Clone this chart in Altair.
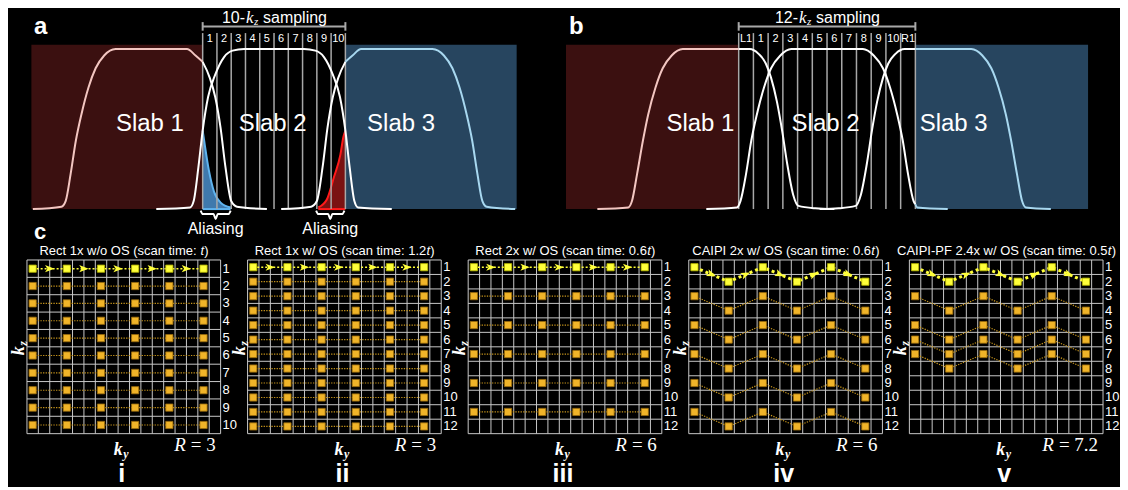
import math
import re
import altair as alt
import pandas as pd

# ======================= DATA =======================
# Panel a: slab excitation profiles; x in k_z-sample units of slab 2's FOV (0..10), y relative signal
A_SLAB1_U = [-11.9, -9.9, -9.6, -9.25, -8.88, -8.5, -8.0, -7.5, -6.9, -6.1, -1.1, -0.5, 0.0, 0.5, 0.88, 1.25, 1.6, 2.0, 2.4, 4.5]
A_SLAB1_V = [0.0, 0.015, 0.05, 0.22, 0.43, 0.59, 0.76, 0.88, 0.96, 1.0, 1.0, 0.96, 0.92, 0.82, 0.70, 0.51, 0.26, 0.05, 0.015, 0.0]
A_SLAB2_U = [-3.25, -0.88, -0.63, -0.3, 0.0, 0.38, 0.88, 1.5, 2.1, 2.9, 7.1, 7.9, 8.5, 9.12, 9.62, 10.0, 10.3, 10.63, 10.88, 13.25]
A_SLAB2_V = [0.0, 0.01, 0.05, 0.26, 0.49, 0.70, 0.84, 0.95, 0.99, 1.0, 1.0, 0.99, 0.95, 0.84, 0.70, 0.49, 0.26, 0.05, 0.01, 0.0]
A_SLAB3_U = [5.5, 7.6, 8.0, 8.4, 8.75, 9.12, 9.5, 10.0, 10.5, 11.1, 16.1, 16.9, 17.5, 18.0, 18.5, 18.88, 19.25, 19.6, 19.9, 21.9]
A_SLAB3_V = [0.0, 0.015, 0.05, 0.26, 0.51, 0.70, 0.82, 0.92, 0.96, 1.0, 1.0, 0.96, 0.88, 0.76, 0.59, 0.43, 0.22, 0.05, 0.015, 0.0]
A_ALIAS_BLUE_U = [0.0, 0.1, 0.44, 0.79, 1.26, 1.96]
A_ALIAS_BLUE_V = [0.49, 0.43, 0.24, 0.11, 0.04, 0.01]
A_ALIAS_RED_U = [8.1, 8.7, 9.2, 9.65, 9.86, 10.0]
A_ALIAS_RED_V = [0.01, 0.06, 0.2, 0.34, 0.45, 0.49]
A_BRACE_SPANS = [(-0.14, 1.96), (7.95, 9.93)]
A_REGION_X0 = [-12.0, 10.0]
A_REGION_X1 = [0.0, 22.0]
A_SLAB_TEXT_U = [-3.7, 4.9, 13.9]
A_KZ_LABELS = [str(i) for i in range(1, 11)]

# Panel b: x in k_z-sample units of the 12-k_z FOV (0..12)
B_SLAB1_U = [-9.6, -7.5, -7.25, -6.9, -6.5, -6.15, -5.65, -5.16, -4.55, -3.8, 0.0, 0.74, 1.35, 1.84, 2.2, 2.6, 2.95, 3.3, 3.7, 4.06, 5.2, 6.5]
B_SLAB1_V = [0.0, 0.01, 0.05, 0.22, 0.43, 0.59, 0.76, 0.88, 0.96, 1.0, 1.0, 1.0, 0.97, 0.91, 0.82, 0.67, 0.49, 0.28, 0.09, 0.02, 0.005, 0.0]
B_SLAB2_U = [-2.2, -0.12, 0.12, 0.5, 0.86, 1.23, 1.72, 2.2, 2.83, 3.57, 8.43, 9.17, 9.8, 10.28, 10.77, 11.14, 11.5, 11.88, 12.0, 12.12, 14.2]
B_SLAB2_V = [0.0, 0.01, 0.05, 0.22, 0.43, 0.59, 0.76, 0.88, 0.96, 1.0, 1.0, 0.96, 0.88, 0.76, 0.59, 0.43, 0.22, 0.05, 0.03, 0.01, 0.0]
B_SLAB3_U = [5.5, 6.8, 7.94, 8.3, 8.7, 9.05, 9.4, 9.8, 10.16, 10.65, 11.26, 12.0, 15.8, 16.55, 17.16, 17.65, 18.15, 18.5, 18.9, 19.25, 19.5, 21.2]
B_SLAB3_V = [0.0, 0.005, 0.02, 0.09, 0.28, 0.49, 0.67, 0.82, 0.91, 0.97, 1.0, 1.0, 1.0, 0.96, 0.88, 0.76, 0.59, 0.43, 0.22, 0.05, 0.01, 0.0]
B_REGION_X0 = [-11.73, 12.0]
B_REGION_X1 = [0.0, 23.73]
B_SLAB_TEXT_U = [-2.6, 5.9, 14.6]
B_KZ_LABELS = ["L1"] + [str(i) for i in range(1, 11)] + ["R1"]

SLAB_NAMES = ["Slab 1", "Slab 2", "Slab 3"]

# Panel c: k-space sampling patterns (17 k_y columns)
GRID_COLS = 17
C_TITLES = ["Rect 1x w/o OS  (scan time: ", "Rect 1x w/ OS (scan time: 1.2",
            "Rect 2x w/ OS  (scan time: 0.6", "CAIPI 2x w/ OS (scan time: 0.6",
            "CAIPI-PF 2.4x w/ OS (scan time: 0.5"]
C_NROWS = [10, 12, 12, 12, 12]
C_KIND = ["rect", "rect", "rect", "caipi", "caipi"]
C_ROWS = [list(range(1, 11)), list(range(1, 13)), [1, 3, 5, 7, 9, 11], [1, 3, 5, 7, 9, 11], [1, 3, 5, 6, 7]]
RECT_COLS = [0, 3, 6, 9, 12, 15]
CAIPI_COLS = [0, 3, 6, 9, 12, 15]
CAIPI_SHIFT = [0, 1, 0, 1, 0, 1]
C_R = ["3", "3", "6", "6", "7.2"]
C_NUMERALS = ["i", "ii", "iii", "iv", "v"]

# ======================= STYLE / GEOMETRY =======================
SANS = "Liberation Sans"
SERIF = "Liberation Serif"
RED_BG, BLUE_BG = "#3b1010", "#27455f"
PINK, LBLUE, WHITE, GRAY = "#f3c6c1", "#a8d8f0", "#ffffff", "#a8a8a8"
ORANGE, ORANGE_EDGE, ORANGE_LINE = "#f0b429", "#9a6c0c", "#c8961c"
YELLOW, YELLOW_EDGE = "#ffff3a", "#b8b800"
GRIDC = "#c8c8c8"
ARROW = "M-1,-0.75L1,0L-1,0.75L-0.5,0Z"

# approximate Arial/Liberation Sans advance widths (em) for centring composite titles
SANS_W = {"R": .722, "e": .556, "c": .5, "t": .278, " ": .278, "1": .556, "x": .5, "w": .722, "/": .278,
          "o": .556, "O": .778, "S": .667, "(": .333, "s": .5, "a": .556, "n": .556, "i": .222, "m": .833,
          ":": .278, ".": .278, "2": .556, "0": .556, "6": .556, "C": .722, "A": .667, "I": .278, "P": .667,
          "-": .333, "F": .611, "4": .556, "5": .556, ")": .333}


def sans_w(s, fs):
    s = re.sub(" +", " ", s)
    return sum(SANS_W.get(ch, 0.556) for ch in s) * fs


PXV = 160.3                      # px per unit of relative signal in top panels
def vpx(py):                     # reference pixel row -> signal units
    return (208.0 - py) / PXV

TOP_H = 165
Y_TOP = TOP_H / PXV
A_XDOM, A_W = [-12.31, 21.96], 490
B_XDOM, B_W = [-11.73, 23.73], 523
GW, GH = 194, 174


def seg_rows(name, us, vs, pieces):
    rows = []
    for k, (lo, hi, col) in enumerate(pieces):
        for u, v in zip(us, vs):
            if lo <= u <= hi:
                rows.append({"x": u, "y": v, "seg": f"{name}{k}", "col": col})
    return rows


def top_panel(xdom, width, rx0, rx1, curves, nfov, labels, num, slab_u, letter, letter_u,
              alias=None, anchors=None, c_label_u=None):
    xs = alt.Scale(domain=xdom, nice=False, zero=False)
    ys = alt.Scale(domain=[0, Y_TOP], nice=False, zero=False)

    def enc(**kw):
        d = dict(x=alt.X("x:Q", scale=xs, axis=None), y=alt.Y("y:Q", scale=ys, axis=None))
        d.update(kw)
        return d

    def txt(df, **mk):
        return alt.Chart(pd.DataFrame(df)).mark_text(color=WHITE, **mk).encode(**enc(text="t:N"))

    L = []
    reg = pd.DataFrame({"x": rx0, "x2": rx1, "y": 0.0, "y2": vpx(43.3), "fill": [RED_BG, BLUE_BG]})
    L.append(alt.Chart(reg).mark_rect().encode(**enc(x2="x2:Q", y2="y2:Q", color=alt.Color("fill:N", scale=None))))
    if alias:
        for us, vs, fill, edge in alias:
            df = pd.DataFrame({"x": us, "y": vs, "y0": 0.0})
            L.append(alt.Chart(df).mark_area(interpolate="monotone", color=fill).encode(**enc(y2="y0:Q")))
            L.append(alt.Chart(df).mark_line(interpolate="monotone", color=edge, strokeWidth=2).encode(**enc()))
            bl = pd.DataFrame({"x": [min(us)], "x2": [max(us)], "y": [0.0]})
            L.append(alt.Chart(bl).mark_rule(color=edge, strokeWidth=2).encode(**enc(x2="x2:Q")))
    vl = pd.DataFrame({"x": list(range(nfov + 1)), "y": 0.0, "y2": vpx(31.7)})
    L.append(alt.Chart(vl).mark_rule(color=GRAY, strokeWidth=1.5).encode(**enc(y2="y2:Q")))
    rows = []
    for name, us, vs, pieces in curves:
        rows += seg_rows(name, us, vs, pieces)
    L.append(alt.Chart(pd.DataFrame(rows)).mark_line(interpolate="monotone", strokeWidth=2).encode(
        **enc(color=alt.Color("col:N", scale=None), detail="seg:N")))
    # bracket
    L.append(alt.Chart(pd.DataFrame({"x": [0], "x2": [nfov], "y": [vpx(25)]})).mark_rule(
        color=GRAY, strokeWidth=2).encode(**enc(x2="x2:Q")))
    L.append(alt.Chart(pd.DataFrame({"x": [0, nfov], "y": vpx(29.3), "y2": vpx(20.7)})).mark_rule(
        color=GRAY, strokeWidth=2).encode(**enc(y2="y2:Q")))
    # braces + aliasing labels
    if alias:
        brows = []
        for k, (a, b) in enumerate(A_BRACE_SPANS):
            m = (a + b) / 2
            pts = [(a, -0.009), (a + 0.15, -0.031), (m - 0.15, -0.031), (m, -0.062),
                   (m + 0.15, -0.031), (b - 0.15, -0.031), (b, -0.009)]
            for (u, v) in pts:
                brows.append({"x": u, "y": v, "b": k})
        L.append(alt.Chart(pd.DataFrame(brows)).mark_line(color=WHITE, strokeWidth=2, interpolate="monotone").encode(
            **enc(detail="b:N")))
        L.append(txt({"x": [(a + b) / 2 for a, b in A_BRACE_SPANS], "y": vpx(232.5), "t": ["Aliasing", "Aliasing"]},
                     font=SANS, fontSize=16, align="center", baseline="alphabetic"))
    # kz labels between lines
    L.append(txt({"x": [i + 0.5 for i in range(nfov)], "y": vpx(37.5), "t": labels},
                 font=SANS, fontSize=11, align="center", baseline="middle"))
    # title "NN-k_z sampling"
    c = nfov / 2
    ty = vpx(17)
    L.append(txt({"x": [c], "y": [ty], "t": [f"{num}-"]}, font=SANS, fontSize=16, align="right", baseline="middle", dx=-29))
    L.append(txt({"x": [c], "y": [ty], "t": ["k"]}, font=SERIF, fontStyle="italic", fontSize=17, align="left", baseline="middle", dx=-28))
    L.append(txt({"x": [c], "y": [ty], "t": ["z"]}, font=SERIF, fontStyle="italic", fontSize=11, align="left", baseline="middle", dx=-20, dy=4))
    L.append(txt({"x": [c], "y": [ty], "t": ["sampling"]}, font=SANS, fontSize=16, align="left", baseline="middle", dx=-11))
    # slab names
    L.append(txt({"x": slab_u, "y": vpx(130), "t": SLAB_NAMES}, font=SANS, fontSize=24, align="center", baseline="alphabetic"))
    # panel letter
    L.append(txt({"x": [letter_u], "y": [vpx(33)], "t": [letter]}, font=SANS, fontSize=24, fontWeight="bold", align="left", baseline="alphabetic"))
    if c_label_u is not None:
        L.append(txt({"x": [c_label_u], "y": [vpx(238)], "t": ["c"]}, font=SANS, fontSize=22, fontWeight="bold", align="left", baseline="alphabetic"))
    if anchors:
        L.append(alt.Chart(pd.DataFrame(anchors)).mark_point(size=1, opacity=0, filled=True).encode(**enc()))
    return alt.layer(*L).properties(width=width, height=TOP_H)


def serif_w(s, fs):
    w = {"=": 0.564, " ": 0.25, ".": 0.25}
    return sum(w.get(ch, 0.5) for ch in s) * fs


def grid_panel(i, anchor=None):
    nrows = C_NROWS[i]
    xs = alt.Scale(domain=[0, GRID_COLS], nice=False, zero=False)
    ys = alt.Scale(domain=[0, nrows], nice=False, zero=False, reverse=True)

    def enc(**kw):
        d = dict(x=alt.X("x:Q", scale=xs, axis=None), y=alt.Y("y:Q", scale=ys, axis=None))
        d.update(kw)
        return d

    def txt(df, **mk):
        return alt.Chart(pd.DataFrame(df)).mark_text(color=WHITE, **mk).encode(**enc(text="t:N"))

    L = []
    vg = pd.DataFrame({"x": list(range(GRID_COLS + 1)), "y": 0.0, "y2": float(nrows)})
    hg = pd.DataFrame({"x": 0.0, "x2": float(GRID_COLS), "y": list(range(nrows + 1))})
    L.append(alt.Chart(vg).mark_rule(color=GRIDC, strokeWidth=1).encode(**enc(y2="y2:Q")))
    L.append(alt.Chart(hg).mark_rule(color=GRIDC, strokeWidth=1).encode(**enc(x2="x2:Q")))

    # sampling trajectories
    lines = []
    if C_KIND[i] == "rect":
        for r in C_ROWS[i]:
            lines.append([(c, r) for c in RECT_COLS])
    else:
        for r in C_ROWS[i]:
            lines.append([(c, r + s) for c, s in zip(CAIPI_COLS, CAIPI_SHIFT)])
    pts = []
    for li, ln in enumerate(lines):
        for k, (c, r) in enumerate(ln):
            pts.append({"x": c + 0.5, "y": r - 0.5, "line": li, "k": k})
    P = pd.DataFrame(pts)
    first = P[P["line"] == 0]
    rest = P[P["line"] > 0]
    caipi = C_KIND[i] == "caipi"
    L.append(alt.Chart(rest).mark_line(color=ORANGE_LINE, strokeWidth=1.2, strokeDash=[1.3, 1.3]).encode(
        **enc(detail="line:N", order="k:Q")))
    L.append(alt.Chart(first).mark_line(color=YELLOW, strokeWidth=3 if caipi else 1.5,
                                        strokeDash=[3, 3] if caipi else [2, 2]).encode(**enc(order="k:Q")))
    L.append(alt.Chart(rest).mark_square(size=52, color=ORANGE, opacity=1, stroke=ORANGE_EDGE, strokeWidth=0.8).encode(**enc()))
    L.append(alt.Chart(first).mark_square(size=52, color=YELLOW, opacity=1, stroke=YELLOW_EDGE, strokeWidth=0.8).encode(**enc()))
    # arrowheads at mid-segments of the first trajectory
    fx, fy = list(first["x"]), list(first["y"])
    arr = []
    for k in range(len(fx) - 1):
        dxp = (fx[k + 1] - fx[k]) * GW / GRID_COLS
        dyp = (fy[k + 1] - fy[k]) * GH / nrows
        arr.append({"x": (fx[k] + fx[k + 1]) / 2, "y": (fy[k] + fy[k + 1]) / 2,
                    "ang": math.degrees(math.atan2(dyp, dxp)) % 360})
    L.append(alt.Chart(pd.DataFrame(arr)).mark_point(shape=ARROW, filled=True, size=90, color=YELLOW, opacity=1).encode(
        **enc(angle=alt.Angle("ang:Q", scale=None))))

    # title with italic t (trailing blank of the prefix becomes an offset, SVG drops it)
    full = C_TITLES[i]
    pre = full.rstrip(" ")
    gap = sans_w(" ", 13) if full != pre else 0.0
    tw = sans_w(pre, 13) + gap + sans_w("t", 13) + sans_w(")", 13)
    d_pre = -tw / 2 + sans_w(pre, 13)
    tpos = {"x": [GRID_COLS / 2], "y": [0.0]}
    L.append(txt(dict(tpos, t=[pre]), font=SANS, fontSize=13, align="right", baseline="alphabetic", dy=-5, dx=d_pre))
    L.append(txt(dict(tpos, t=["t"]), font=SANS, fontStyle="italic", fontSize=13, align="left", baseline="alphabetic",
                 dy=-5, dx=d_pre + gap + 0.3))
    L.append(txt(dict(tpos, t=[")"]), font=SANS, fontSize=13, align="left", baseline="alphabetic",
                 dy=-5, dx=d_pre + gap + sans_w("t", 13) + 0.5))
    L.append(txt({"x": float(GRID_COLS), "y": [r - 0.5 for r in range(1, nrows + 1)],
                  "t": [str(r) for r in range(1, nrows + 1)]}, font=SANS, fontSize=13,
                 align="left", baseline="middle", dx=2))
    # k_z (rotated)
    L.append(txt({"x": [0.0], "y": [nrows / 2], "t": ["k"]}, font=SERIF, fontStyle="italic", fontWeight="bold",
                 fontSize=18, angle=270, align="center", baseline="middle", dx=-4, dy=-8))
    L.append(txt({"x": [0.0], "y": [nrows / 2], "t": ["z"]}, font=SERIF, fontStyle="italic", fontWeight="bold",
                 fontSize=12, angle=270, align="left", baseline="middle", dx=1, dy=-4))
    # k_y
    L.append(txt({"x": [GRID_COLS / 2], "y": [float(nrows)], "t": ["k"]}, font=SERIF, fontStyle="italic", fontWeight="bold",
                 fontSize=18, align="right", baseline="alphabetic", dx=-1, dy=21))
    L.append(txt({"x": [GRID_COLS / 2], "y": [float(nrows)], "t": ["y"]}, font=SERIF, fontStyle="italic", fontWeight="bold",
                 fontSize=12, align="left", baseline="alphabetic", dx=-0.5, dy=24))
    # R = ...
    rhs = f"= {C_R[i]}"
    L.append(txt({"x": [float(GRID_COLS)], "y": [float(nrows)], "t": [rhs]}, font=SERIF, fontSize=19,
                 align="right", baseline="alphabetic", dx=-5, dy=17))
    L.append(txt({"x": [float(GRID_COLS)], "y": [float(nrows)], "t": ["R"]}, font=SERIF, fontStyle="italic", fontSize=19,
                 align="right", baseline="alphabetic", dx=-5 - serif_w(rhs, 19) - 5, dy=17))
    # numeral
    L.append(txt({"x": [GRID_COLS / 2], "y": [float(nrows)], "t": [C_NUMERALS[i]]}, font=SANS, fontSize=25,
                 fontWeight="bold", align="center", baseline="alphabetic", dx=-2, dy=48))
    if anchor:
        L.append(alt.Chart(pd.DataFrame(anchor)).mark_point(size=1, opacity=0, filled=True).encode(**enc()))
    return alt.layer(*L).properties(width=GW, height=GH)


# ======================= BUILD =======================
A_PX = A_W / (A_XDOM[1] - A_XDOM[0])
anchor_u = A_XDOM[0] - 18.0 / A_PX
pa = top_panel(
    A_XDOM, A_W, A_REGION_X0, A_REGION_X1,
    [("s1", A_SLAB1_U, A_SLAB1_V, [(-99, 0, PINK), (0, 99, WHITE)]),
     ("s2", A_SLAB2_U, A_SLAB2_V, [(-99, 99, WHITE)]),
     ("s3", A_SLAB3_U, A_SLAB3_V, [(-99, 10, WHITE), (10, 99, LBLUE)])],
    10, A_KZ_LABELS, "10", A_SLAB_TEXT_U, "a", A_XDOM[0] + 7.0 / A_PX,
    alias=[(A_ALIAS_BLUE_U, A_ALIAS_BLUE_V, "#3f79ad", "#5fb3ee"),
           (A_ALIAS_RED_U, A_ALIAS_RED_V, "#7a1212", "#ff1a1a")],
    anchors={"x": [anchor_u, anchor_u], "y": [vpx(8), vpx(243)]},
    c_label_u=A_XDOM[0] + 7.0 / A_PX,
)
B_PX = B_W / (B_XDOM[1] - B_XDOM[0])
pb = top_panel(
    B_XDOM, B_W, B_REGION_X0, B_REGION_X1,
    [("s1", B_SLAB1_U, B_SLAB1_V, [(-99, 0, PINK), (0, 99, WHITE)]),
     ("s2", B_SLAB2_U, B_SLAB2_V, [(-99, 12, WHITE), (12, 99, LBLUE)]),
     ("s3", B_SLAB3_U, B_SLAB3_V, [(-99, 12, WHITE), (12, 99, LBLUE)])],
    12, B_KZ_LABELS, "12", B_SLAB_TEXT_U, "b", B_XDOM[0] + 3.0 / B_PX,
)

G_PXC = GW / GRID_COLS
panels = []
for i in range(5):
    anc = None
    if i == 0:
        anc = {"x": [-18.0 / G_PXC], "y": [-16.0 / (GH / C_NROWS[0])]}
    panels.append(grid_panel(i, anc))

top = alt.hconcat(pa, pb, spacing=50, bounds="flush")
bottom = alt.hconcat(*panels, spacing=27, bounds="flush")
chart = alt.vconcat(top, bottom, spacing=-2).properties(padding=0, background="black")
chart = chart.configure_view(stroke=None)
chart.save("out.html", embed_options={"renderer": "svg", "actions": False})
